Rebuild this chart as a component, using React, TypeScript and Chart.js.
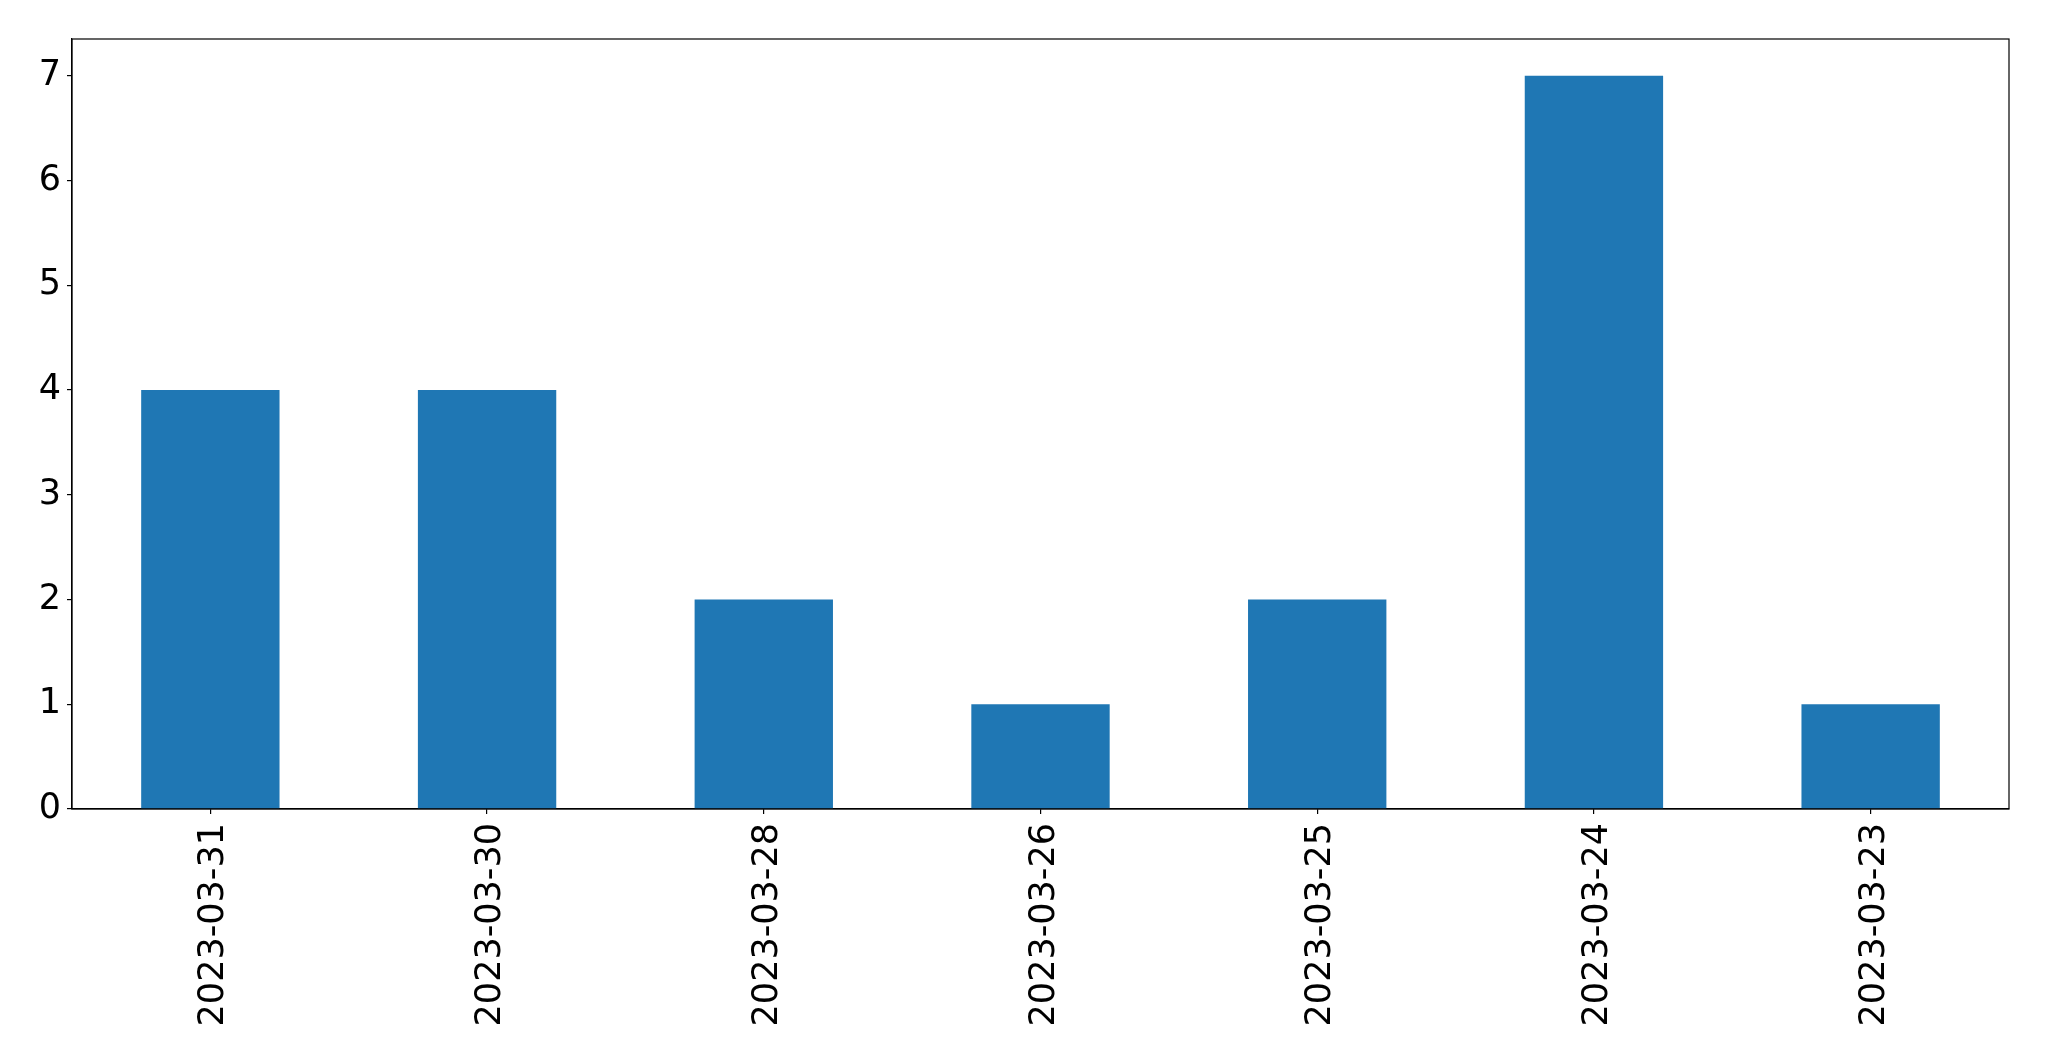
import React, { useEffect, useRef } from "react";
import { Chart, registerables } from "chart.js";

Chart.register(...registerables);

const categories = ["2023-03-31", "2023-03-30", "2023-03-28", "2023-03-26", "2023-03-25", "2023-03-24", "2023-03-23"];
const counts = [4, 4, 2, 1, 2, 7, 1];
const yTicks = [0, 1, 2, 3, 4, 5, 6, 7];

const W = 2049;
const H = 1061;
const PLOT_LEFT = 72;
const PLOT_TOP = 39;
const PLOT_RIGHT = 2009;
const PLOT_BOTTOM = 809;
const FONT = "'DejaVu Sans', sans-serif";

const framePlugin = {
  id: "frame",
  afterDraw(chart: any) {
    const { ctx, chartArea } = chart;
    ctx.save();
    ctx.strokeStyle = "#000";
    ctx.lineWidth = 1.2;
    ctx.strokeRect(chartArea.left, chartArea.top, chartArea.right - chartArea.left, chartArea.bottom - chartArea.top);
    ctx.restore();
  },
};

export default function App() {
  const ref = useRef<HTMLCanvasElement | null>(null);
  useEffect(() => {
    if (!ref.current) return;
    const chart = new Chart(ref.current, {
      type: "bar",
      data: {
        labels: categories,
        datasets: [
          {
            data: counts,
            backgroundColor: "#1f77b4",
            borderColor: "#1f77b4",
            borderWidth: 0,
            barPercentage: 0.5,
            categoryPercentage: 1,
          },
        ],
      },
      plugins: [framePlugin],
      options: {
        animation: false,
        responsive: false,
        maintainAspectRatio: false,
        layout: { padding: { left: 0, top: PLOT_TOP, right: W - PLOT_RIGHT, bottom: 0 } },
        plugins: { legend: { display: false }, tooltip: { enabled: false } },
        scales: {
          x: {
            type: "category",
            offset: true,
            grid: { display: true, drawOnChartArea: false, drawTicks: true, tickLength: 5, color: "#000", lineWidth: 1.2, offset: false },
            border: { display: true, color: "#000", width: 1.2 },
            ticks: {
              color: "#000",
              font: { family: FONT, size: 35 },
              maxRotation: 90,
              minRotation: 90,
              autoSkip: false,
              padding: 9,
              labelOffset: 4,
            },
            afterFit(scale: any) {
              scale.height = H - PLOT_BOTTOM;
            },
          },
          y: {
            type: "linear",
            min: 0,
            max: 7.35,
            grid: { display: true, drawOnChartArea: false, drawTicks: true, tickLength: 5, color: "#000", lineWidth: 1.2 },
            border: { display: true, color: "#000", width: 1.2 },
            afterBuildTicks(scale: any) {
              scale.ticks = yTicks.map((v) => ({ value: v }));
            },
            ticks: {
              color: "#000",
              font: { family: FONT, size: 35 },
              padding: 6,
              includeBounds: false,
            },
            afterFit(scale: any) {
              scale.width = PLOT_LEFT;
            },
          },
        },
      },
    });
    return () => chart.destroy();
  }, []);
  return (
    <div style={{ position: "fixed", left: 0, top: 0, width: W, height: H, background: "#fff" }}>
      <canvas ref={ref} width={W} height={H} style={{ width: W, height: H, display: "block" }} />
    </div>
  );
}
